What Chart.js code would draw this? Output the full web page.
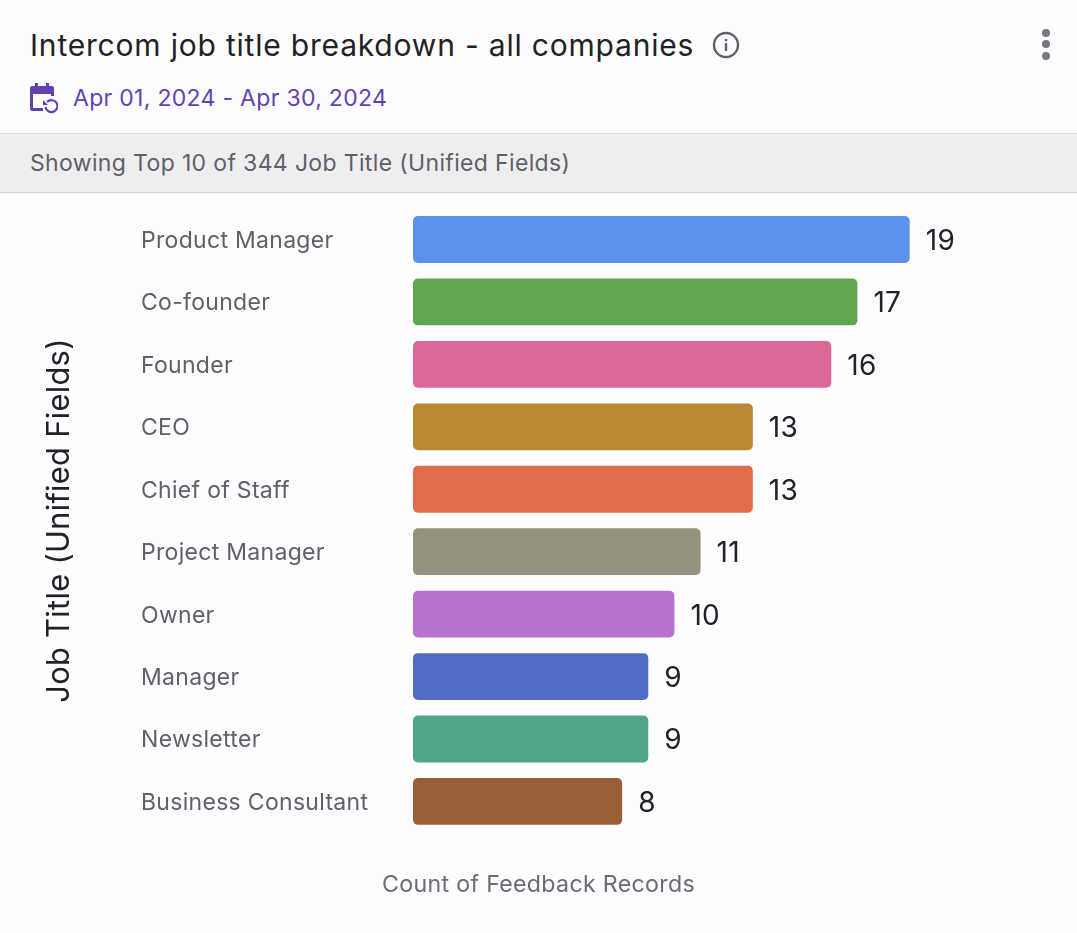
<!DOCTYPE html>
<html><head><meta charset="utf-8">
<script src="https://cdn.jsdelivr.net/npm/chart.js@4"></script>
<style>
html,body{margin:0;padding:0;background:#fdfdff;width:1077px;height:933px;overflow:hidden;font-family:Inter,sans-serif}
.abs{position:absolute;white-space:nowrap}
#title{left:30px;top:25px;font-size:30px;line-height:40px;color:#212226;letter-spacing:.8px}
#date{left:73px;top:82px;font-size:23px;line-height:32px;color:#6540b5;letter-spacing:.3px}
#band{left:0;top:133px;width:1077px;height:58px;background:#eeeef1;border-top:1.5px solid #dcdcdf;border-bottom:1.5px solid #d4d4d7;box-sizing:content-box}
#bandText{left:30px;top:147px;font-size:23px;line-height:32px;color:#5f6068;letter-spacing:.35px}
#wrap{position:absolute;left:0;top:193px;width:1077px;height:740px}
svg{position:absolute}
</style></head><body>
<div id="title" class="abs">Intercom job title breakdown - all companies</div>
<svg style="left:712px;top:31px" width="28" height="28" viewBox="0 0 28 28"><circle cx="14" cy="14" r="12" fill="none" stroke="#5f6068" stroke-width="2.4"/><rect x="12.8" y="12" width="2.4" height="8" fill="#5f6068"/><rect x="12.8" y="8" width="2.4" height="2.4" fill="#5f6068"/></svg>
<svg style="left:1036px;top:26px" width="20" height="36" viewBox="0 0 20 36"><circle cx="10" cy="7" r="4" fill="#77777d"/><circle cx="10" cy="18" r="4" fill="#77777d"/><circle cx="10" cy="30" r="4" fill="#77777d"/></svg>
<svg style="left:28px;top:82px" width="30" height="32" viewBox="0 0 30 32"><path d="M2 6a2 2 0 0 1 2-2h3V1h3v3h8V1h3v3h3a2 2 0 0 1 2 2v8h-3v-2H5v14h10v3H4a2 2 0 0 1-2-2z" fill="#6540b5"/><path d="M19 20a6 6 0 1 1-1.5 5" fill="none" stroke="#6540b5" stroke-width="2.2"/><path d="M15 18v5h5z" fill="#6540b5"/></svg>
<div id="date" class="abs">Apr 01, 2024 - Apr 30, 2024</div>
<div id="band" class="abs"></div>
<div id="bandText" class="abs">Showing Top 10 of 344 Job Title (Unified Fields)</div>
<div id="wrap"><canvas id="c"></canvas></div>
<script>
const categories = ["Product Manager","Co-founder","Founder","CEO","Chief of Staff","Project Manager","Owner","Manager","Newsletter","Business Consultant"];
const counts = [19,17,16,13,13,11,10,9,9,8];
const barColors = ["#5b91ee","#60a651","#dc6899","#b98832","#df6d4c","#93937e","#b873cf","#516cc4","#4fa686","#995f36"];
const yAxisTitle = "Job Title (Unified Fields)";
const xAxisTitle = "Count of Feedback Records";
const xMax = 25.4;

const spacing = {
  id:'spacing',
  beforeDraw(chart){ chart.ctx.letterSpacing = '0.3px'; }
};
const valueLabels = {
  id:'valueLabels',
  afterDatasetsDraw(chart){
    const {ctx} = chart;
    const meta = chart.getDatasetMeta(0);
    ctx.save();
    ctx.font = '28px Inter';
    ctx.fillStyle = '#212226';
    ctx.textAlign = 'left';
    ctx.textBaseline = 'middle';
    meta.data.forEach((el,i)=>ctx.fillText(String(counts[i]), el.x+16, el.y+2));
    ctx.restore();
  }
};

new Chart(document.getElementById('c'),{
  type:'bar',
  data:{labels:categories,datasets:[{data:counts,backgroundColor:barColors,borderRadius:5,borderSkipped:false,categoryPercentage:1,barPercentage:0.75}]},
  plugins:[spacing,valueLabels],
  options:{
    indexAxis:'y',responsive:true,maintainAspectRatio:false,animation:false,
    layout:{padding:{top:15.3,right:0,bottom:34,left:0}},
    plugins:{
      legend:{display:false},tooltip:{enabled:false},
      title:{display:true,position:'bottom',text:xAxisTitle,color:'#6a6b73',font:{family:'Inter',size:23.2,weight:'normal'},padding:{top:38.5,bottom:0}}
    },
    scales:{
      x:{display:false,min:0,max:xMax,grid:{display:false}},
      y:{type:'category',labels:categories,weight:1,grid:{display:false},border:{display:false},
        ticks:{crossAlign:'far',color:'#5f6068',font:{family:'Inter',size:23},padding:0,labelOffset:1.5},
        afterFit(s){s.width=272;}},
      yTitle:{type:'category',labels:categories,position:'left',weight:10,grid:{display:false},border:{display:false},
        ticks:{display:false},
        title:{display:true,text:yAxisTitle,color:'#212226',font:{family:'Inter',size:30.8,weight:'normal'},padding:{top:41,bottom:0}},
        afterFit(s){s.width=141;}}
    }
  }
});
</script>
</body></html>
